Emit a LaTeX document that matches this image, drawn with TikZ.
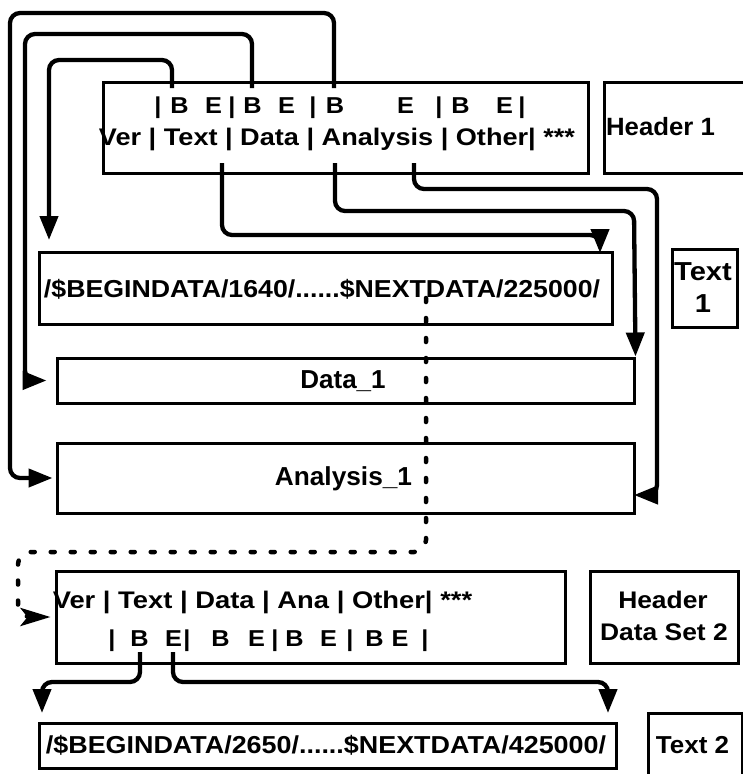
\documentclass[tikz,border=0pt]{standalone}
\usepackage{fontspec}
\setmainfont{Liberation Sans}
\usepackage{graphicx}
\usetikzlibrary{arrows.meta}
\newcommand\sx[3]{{\fontsize{#1}{#1}\selectfont\scalebox{#2}[1]{#3}}}
\begin{document}
\begin{tikzpicture}[x=1pt,y=-1pt,
  box/.style={draw, line width=3pt, inner sep=0pt, rectangle},
  lbl/.style={inner sep=0pt, anchor=base, font=\bfseries},
  conn/.style={line width=4.3pt, rounded corners=10pt, -{Triangle[length=24pt,width=18pt]}},
  dots/.style={line width=4.5pt, line cap=round, dash pattern=on 4pt off 16pt, rounded corners=12pt, -{Stealth[length=30pt,width=18pt,inset=7pt]}}]
\useasboundingbox (0,0) rectangle (743,774);

% boxes
\node[box, minimum width=485pt, minimum height=91pt] (hdr1) at (345.5,127.5) {};
\node[box, minimum width=166pt, minimum height=91pt] (hh1) at (687,127.5) {};
\node[box, minimum width=573pt, minimum height=72pt] (txt1) at (325.5,288) {};
\node[box, minimum width=65pt, minimum height=78pt] (t1box) at (704.5,288) {};
\node[box, minimum width=577pt, minimum height=45pt] (data1) at (345.5,380.5) {};
\node[box, minimum width=577pt, minimum height=70pt] (ana1) at (345.5,478) {};
\node[box, minimum width=509pt, minimum height=92pt] (hdr2) at (310.5,617) {};
\node[box, minimum width=148pt, minimum height=92pt] (hh2) at (664,617) {};
\node[box, minimum width=577pt, minimum height=45pt] (txt2) at (327.5,745.5) {};
\node[box, minimum width=94pt, minimum height=87pt] (t2box) at (695,756.5) {};

% header 1 texts
\foreach \x/\c [count=\i] in {158/|,179.5/B,213.5/E,232/|,252.5/B,286.5/E,313/|,335/B,405.5/E,439/|,460.5/B,504.5/E,522/|}
  \node[lbl] (ha\i) at (\x,113) {\sx{23}{1.1}{\c}};
\node[lbl] (hl2) at (337,145) {\sx{24}{1.13}{Ver | Text | Data | Analysis | Other| ***}};
\node[lbl] (hh1t) at (660.5,135) {\sx{25}{1.03}{Header 1}};

% text 1
\node[lbl] (txt1t) at (322,297) {\sx{24.5}{1.09}{/\$BEGINDATA/1640/......\$NEXTDATA/225000/}};
\node[lbl] (t1a) at (703,280) {\sx{26}{1.12}{Text}};
\node[lbl] (t1b) at (703,312) {\sx{26}{1.12}{1}};

% data and analysis
\node[lbl] (data1t) at (343,388) {\sx{26}{1.0}{Data\_1}};
\node[lbl] (ana1t) at (343.5,485) {\sx{26}{1.01}{Analysis\_1}};

% header 2 texts
\node[lbl] (h2l1) at (262.5,608) {\sx{24}{1.14}{Ver | Text | Data | Ana | Other| ***}};
\foreach \x/\c [count=\i] in {112/|,139.5/B,173.5/E,187/|,220.5/B,256.5/E,275/|,294.5/B,328.5/E,350/|,374.5/B,400/E,425/|}
  \node[lbl] (hb\i) at (\x,646) {\sx{23}{1.1}{\c}};
\node[lbl] (hh2a) at (663,608) {\sx{24}{1.10}{Header}};
\node[lbl] (hh2b) at (664,640) {\sx{24}{1.10}{Data Set 2}};

% text 2
\node[lbl] (txt2t) at (326,753) {\sx{24.5}{1.098}{/\$BEGINDATA/2650/......\$NEXTDATA/425000/}};
\node[lbl] (t2t) at (692.5,753) {\sx{24.5}{1.06}{Text 2}};

% connector end points
\coordinate (b1) at (172,88);
\coordinate (b2) at (252,88);
\coordinate (b3) at (334,88);
\coordinate (tx) at (222,163);
\coordinate (ab) at (335,163);
\coordinate (ae) at (414,163);
\coordinate (t1l) at (49,252);
\coordinate (t1r) at (600,253);
\coordinate (a1r) at (634,495);
\coordinate (ds) at (426,298);
\coordinate (h2b) at (140,652);
\coordinate (h2e) at (173,652);
\coordinate (t2l) at (42,723);
\coordinate (t2r) at (608,723);

% connectors
\draw[conn, shorten >=3pt] (b3) -- (334,13) -- (10,13) -- (10,478) -- (ana1.west);
\draw[conn, shorten >=9pt] (b2) -- (252,34) -- (25,34) -- (25,380.5) -- (data1.west);
\draw[conn, shorten >=12pt] (b1) -- (172,60) -- (49,60) -- (t1l);
\draw[conn] (tx) -- (222,235) -- (600,235) -- (t1r);
\draw[conn] (ab) -- (335,211) -- (634,211) -- (data1.north east);
\draw[conn] (ae) -- (414,189) -- (657,189) -- (657,495) -- (a1r);
\draw[dots, shorten >=4pt] (ds) -- (426,552) -- (18,552) -- (18,617) -- (hdr2.west);
\draw[conn, shorten >=10pt] (h2b) -- (140,682) -- (42,682) -- (t2l);
\draw[conn, shorten >=10pt] (h2e) -- (173,682) -- (608,682) -- (t2r);
\end{tikzpicture}
\end{document}
